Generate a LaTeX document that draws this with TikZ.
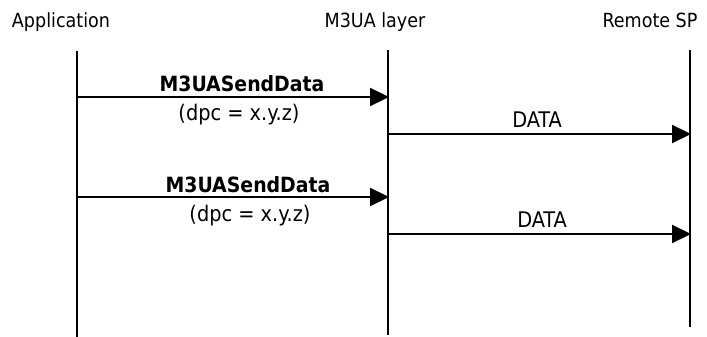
\documentclass[tikz,border=0pt]{standalone}
\usepackage{fontspec}
\setmainfont{DejaVu Sans Condensed}
\usetikzlibrary{arrows.meta}
\begin{document}
\begin{tikzpicture}[x=1pt,y=-1pt,
  lifeline/.style={line width=2.4pt},
  msg/.style={line width=2.2pt,-{Triangle[length=19pt,width=18pt]}, shorten >=-1pt},
  head/.style={font=\fontsize{19.5}{23}\selectfont, inner sep=0pt, anchor=base},
  lbl/.style={font=\fontsize{21.5}{25}\selectfont, inner sep=0pt, anchor=base},
  blbl/.style={font=\fontsize{21}{25}\selectfont\bfseries, inner sep=0pt, anchor=base}]
  \useasboundingbox (0,0) rectangle (707,337);
  % column headings
  \node[head] (happ) at (61,28) {Application};
  \node[head] (hm3) at (375,28) {M3UA layer};
  \node[head] (hrsp) at (650,28) {Remote SP};
  % lifelines
  \coordinate (a0) at (77,51);   \coordinate (a1) at (77,337);
  \coordinate (m0) at (388,50);  \coordinate (m1) at (388,335);
  \coordinate (r0) at (690,50);  \coordinate (r1) at (690,327);
  \draw[lifeline] (a0) -- (a1);
  \draw[lifeline] (m0) -- (m1);
  \draw[lifeline] (r0) -- (r1);
  % first request and its forwarded message
  \coordinate (s1) at (77,97);  \coordinate (e1) at (388,97);
  \draw[msg] (s1) -- (e1);
  \node[blbl] (l1) at (242,92) {M3UASendData};
  \node[lbl] (p1) at (239,121) {(dpc = x.y.z)};
  \coordinate (s2) at (388,134); \coordinate (e2) at (690,134);
  \draw[msg] (s2) -- (e2);
  \node[lbl] (d1) at (537,127) {DATA};
  % second request and its forwarded message
  \coordinate (s3) at (77,197);  \coordinate (e3) at (388,197);
  \draw[msg] (s3) -- (e3);
  \node[blbl] (l2) at (248,192) {M3UASendData};
  \node[lbl] (p2) at (250,221) {(dpc = x.y.z)};
  \coordinate (s4) at (388,234); \coordinate (e4) at (690,234);
  \draw[msg] (s4) -- (e4);
  \node[lbl] (d2) at (542,227) {DATA};
\end{tikzpicture}
\end{document}
